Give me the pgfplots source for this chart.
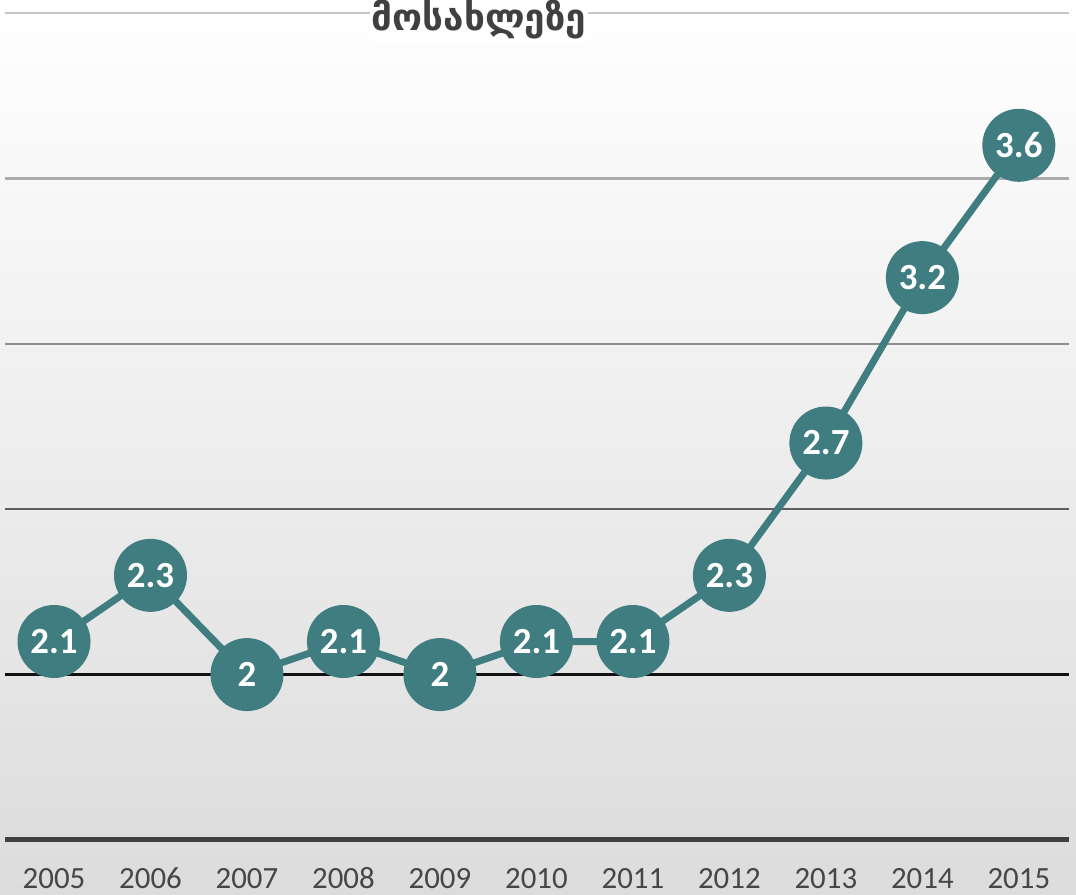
\documentclass[border=0pt]{standalone}
\usepackage{fontspec}
\setmainfont{Carlito}
\newfontfamily\geo{DejaVu Sans}
\usepackage{pgfplots}
\pgfplotsset{compat=1.18}
\definecolor{teal1}{RGB}{64,125,128}
\definecolor{bgbot}{RGB}{220,220,220}
\definecolor{g40}{RGB}{198,198,198}
\definecolor{g35}{RGB}{171,171,171}
\definecolor{g30}{RGB}{143,143,143}
\definecolor{g25}{RGB}{94,94,94}
\definecolor{g20}{RGB}{17,17,17}
\definecolor{g15}{RGB}{64,64,64}
\definecolor{ticktext}{RGB}{70,70,70}
\definecolor{titletext}{RGB}{64,64,64}
\begin{document}
\begin{tikzpicture}[x=1bp,y=1bp]
\path[use as bounding box] (0,0) rectangle (1076,895);
\clip (0,0) rectangle (1076,895);
\shade[top color=white, bottom color=bgbot] (0,0) rectangle (1076,895);
\begin{axis}[
  at={(5bp,55bp)}, anchor=south west, scale only axis,
  width=1064bp, height=827bp,
  xmin=-0.508, xmax=10.52, ymin=1.5, ymax=4.0,
  axis line style={draw=none},
  ytick=\empty,
  xtick={0,1,2,3,4,5,6,7,8,9,10},
  xticklabels={2005,2006,2007,2008,2009,2010,2011,2012,2013,2014,2015},
  major tick length=0,
  xticklabel style={anchor=base, yshift=-49bp, inner sep=0pt, font=\fontsize{31}{31}\selectfont, text=ticktext},
  clip=false,
]
\addplot[draw=g40, line width=2.5bp] coordinates {(-0.508,4) (10.52,4)};
\addplot[draw=g35, line width=2.5bp] coordinates {(-0.508,3.5) (10.52,3.5)};
\addplot[draw=g30, line width=2.5bp] coordinates {(-0.508,3) (10.52,3)};
\addplot[draw=g25, line width=2.5bp] coordinates {(-0.508,2.5) (10.52,2.5)};
\addplot[draw=g20, line width=2.5bp] coordinates {(-0.508,2) (10.52,2)};
\addplot[draw=g15, line width=5bp] coordinates {(-0.508,1.5) (10.52,1.5)};
\addplot[teal1, line width=7bp, mark=*, mark size=33bp,
  mark options={fill=teal1, draw=none},
  point meta=explicit symbolic, nodes near coords,
  nodes near coords style={anchor=center, text=white, font=\bfseries\fontsize{37}{37}\selectfont}]
  coordinates {
  (0,2.1) [2.1]
  (1,2.3) [2.3]
  (2,2.0) [2]
  (3,2.1) [2.1]
  (4,2.0) [2]
  (5,2.1) [2.1]
  (6,2.1) [2.1]
  (7,2.3) [2.3]
  (8,2.7) [2.7]
  (9,3.2) [3.2]
  (10,3.6) [3.6]
  };
\end{axis}
\node[fill=white, inner xsep=2bp, inner ysep=2bp, anchor=base, text=titletext] at (479,864) {\geo\bfseries\fontsize{37}{37}\selectfont მოსახლეზე};
\end{tikzpicture}
\end{document}
